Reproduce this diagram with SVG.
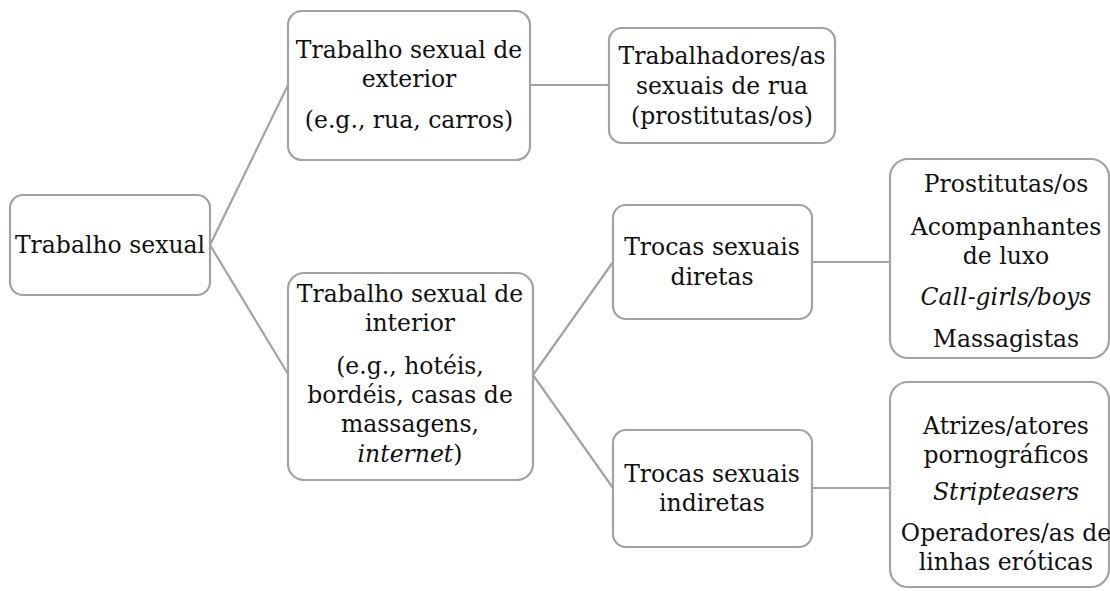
<svg xmlns="http://www.w3.org/2000/svg" width="1110" height="591" viewBox="0 0 1110 591">
<style>
.box{fill:#fff;stroke:#a3a3a3;stroke-width:2.2}
.c{stroke:#a3a3a3;stroke-width:2.2;fill:none}
</style>
<rect width="1110" height="591" fill="#fff"/>
<g id="connectors">
<line class="c" x1="210" y1="245" x2="288" y2="85"/>
<line class="c" x1="210" y1="245" x2="288" y2="374"/>
<line class="c" x1="530" y1="85" x2="609" y2="85"/>
<line class="c" x1="533" y1="375" x2="613" y2="262"/>
<line class="c" x1="533" y1="375" x2="613" y2="488"/>
<line class="c" x1="812" y1="262" x2="890" y2="262"/>
<line class="c" x1="812" y1="488" x2="890" y2="488"/>
</g>
<g font-family="DejaVu Serif, Noto Serif, Liberation Serif, serif" font-size="23.5" fill="#111" text-anchor="middle">
<g id="root">
<rect class="box" x="10" y="195" width="200" height="100" rx="13"/>
<text x="110" y="253">Trabalho sexual</text>
</g>
<g id="exterior">
<rect class="box" x="288" y="11" width="242" height="149" rx="14"/>
<text x="409" y="58">Trabalho sexual de</text>
<text x="409" y="87">exterior</text>
<text x="409" y="128">(e.g., rua, carros)</text>
</g>
<g id="street">
<rect class="box" x="609" y="28" width="226" height="115" rx="13"/>
<text x="722" y="64">Trabalhadores/as</text>
<text x="722" y="94">sexuais de rua</text>
<text x="722" y="124">(prostitutas/os)</text>
</g>
<g id="interior">
<rect class="box" x="288" y="273" width="245" height="207" rx="16"/>
<text x="410" y="302">Trabalho sexual de</text>
<text x="410" y="331">interior</text>
<text x="410" y="374">(e.g., hotéis,</text>
<text x="410" y="403">bordéis, casas de</text>
<text x="410" y="432">massagens,</text>
<text x="410" y="462"><tspan font-style="italic">internet</tspan>)</text>
</g>
<g id="direct">
<rect class="box" x="613" y="205" width="199" height="114" rx="13"/>
<text x="712" y="255">Trocas sexuais</text>
<text x="712" y="285">diretas</text>
</g>
<g id="indirect">
<rect class="box" x="613" y="430" width="199" height="117" rx="13"/>
<text x="712" y="482">Trocas sexuais</text>
<text x="712" y="511">indiretas</text>
</g>
<g id="direct-types">
<rect class="box" x="890" y="159" width="219" height="199" rx="18"/>
<text x="1006" y="192">Prostitutas/os</text>
<text x="1006" y="235">Acompanhantes</text>
<text x="1006" y="264">de luxo</text>
<text x="1006" y="305" font-style="italic">Call-girls/boys</text>
<text x="1006" y="347">Massagistas</text>
</g>
<g id="indirect-types">
<rect class="box" x="890" y="382" width="219" height="205" rx="18"/>
<text x="1006" y="434">Atrizes/atores</text>
<text x="1006" y="463">pornográficos</text>
<text x="1006" y="500" font-style="italic">Stripteasers</text>
<text x="1006" y="541">Operadores/as de</text>
<text x="1006" y="570">linhas eróticas</text>
</g>
</g>
</svg>
